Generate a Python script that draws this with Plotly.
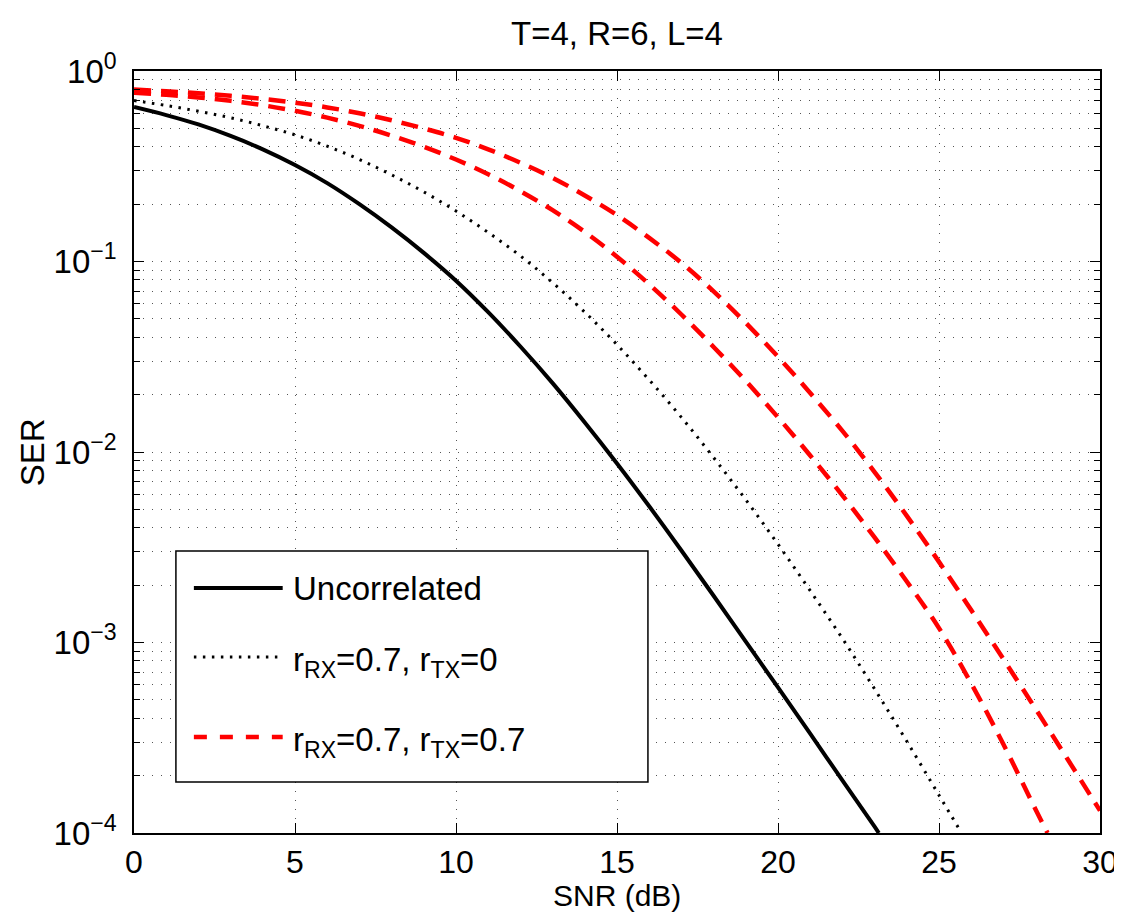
import plotly.graph_objects as go

# ---------------- data ----------------
snr_uncorr = [0, 1, 2, 3, 4, 5, 6, 7, 8, 9, 10, 11, 12, 13, 14, 15, 16, 17, 18, 19, 20, 21, 22, 23, 23.13]
ser_uncorr = [0.647, 0.587, 0.524, 0.456, 0.388, 0.321, 0.258, 0.200, 0.151, 0.111, 0.0793, 0.0542,
              0.0358, 0.0230, 0.0143, 0.00871, 0.00519, 0.00304, 0.00176, 0.00101, 5.81e-4, 3.32e-4,
              1.89e-4, 1.08e-4, 1.0e-4]

snr_rx = [0, 1, 2, 3, 4, 5, 6, 7, 8, 9, 10, 11, 12, 13, 14, 15, 16, 17, 18, 19, 20, 21, 22, 23, 24, 25, 25.7]
ser_rx = [0.700, 0.659, 0.615, 0.568, 0.516, 0.462, 0.403, 0.343, 0.285, 0.232, 0.184, 0.142, 0.107,
          0.0774, 0.0542, 0.0366, 0.0239, 0.0152, 0.00935, 0.00561, 0.00328, 0.00187, 0.00105,
          5.70e-4, 3.03e-4, 1.58e-4, 1.0e-4]

snr_both_a = [0, 1, 2, 3, 4, 5, 6, 7, 8, 9, 10, 11, 12, 13, 14, 15, 16, 17, 18, 19, 20, 21, 22, 23, 24,
              25, 26, 27, 28, 29, 30]
ser_both_a = [0.800, 0.783, 0.764, 0.741, 0.714, 0.682, 0.644, 0.600, 0.551, 0.499, 0.446, 0.388, 0.330,
              0.275, 0.222, 0.175, 0.133, 0.0984, 0.0697, 0.0476, 0.0316, 0.0204, 0.0129, 0.00785,
              0.00462, 0.00265, 0.00148, 8.18e-4, 4.48e-4, 2.43e-4, 1.31e-4]

snr_both_b = [0, 1, 2, 3, 4, 5, 6, 7, 8, 9, 10, 11, 12, 13, 14, 15, 16, 17, 18, 19, 20, 21, 22, 23, 24,
              25, 26, 27, 28, 28.37]
ser_both_b = [0.769, 0.750, 0.726, 0.697, 0.661, 0.618, 0.569, 0.515, 0.458, 0.400, 0.343, 0.287, 0.234,
              0.186, 0.143, 0.106, 0.0759, 0.0527, 0.0356, 0.0236, 0.0152, 0.00959, 0.00592, 0.00356,
              0.00209, 0.00119, 6.10e-4, 2.92e-4, 1.33e-4, 1.0e-4]

legend_labels = ["Uncorrelated", "r<sub>RX</sub>=0.7, r<sub>TX</sub>=0", "r<sub>RX</sub>=0.7, r<sub>TX</sub>=0.7"]
title_text = "T=4, R=6, L=4"
x_title = "SNR (dB)"
y_title = "SER"
x_ticks = [0, 5, 10, 15, 20, 25, 30]
y_ticks = [1e-4, 1e-3, 1e-2, 1e-1, 1]
y_ticktext = ["10<sup>\u22124</sup>", "10<sup>\u22123</sup>", "10<sup>\u22122</sup>",
              "10<sup>\u22121</sup>", "10<sup>0</sup>"]
y_minor = [m * 10.0 ** e for e in range(-4, 0) for m in range(2, 10)]

FONT = "Liberation Sans, Arial, Helvetica, sans-serif"
FS = 33
GRID = "#555555"

styles = [
    dict(color="black", width=4, dash="solid"),
    dict(color="black", width=3, dash="2.5px,6.5px"),
    dict(color="#ff0000", width=4.5, dash="17px,10px"),
]

fig = go.Figure()
fig.add_trace(go.Scatter(x=snr_uncorr, y=ser_uncorr, mode="lines", line=dict(shape="spline", **styles[0]),
                         name="Uncorrelated", showlegend=False))
fig.add_trace(go.Scatter(x=snr_rx, y=ser_rx, mode="lines", line=dict(shape="spline", **styles[1]),
                         name="rRX=0.7, rTX=0", showlegend=False))
fig.add_trace(go.Scatter(x=snr_both_a, y=ser_both_a, mode="lines", line=dict(shape="spline", **styles[2]),
                         name="rRX=0.7, rTX=0.7", showlegend=False))
fig.add_trace(go.Scatter(x=snr_both_b, y=ser_both_b, mode="lines", line=dict(shape="spline", **styles[2]),
                         name="rRX=0.7, rTX=0.7 (b)", showlegend=False))

# ---------------- geometry helpers (pixel -> paper) ----------------
L, R, T, B = 126, 1094, 63, 825
W, H = R - L, B - T


def px(xp):
    return (xp - L) / W


def py(yp):
    return (B - yp) / H


# ---------------- MATLAB-style legend box ----------------
fig.add_shape(type="rect", xref="paper", yref="paper", x0=px(168), x1=px(641), y0=py(774), y1=py(543),
              line=dict(color="black", width=1.5), fillcolor="white", layer="above")
rows = [580, 649, 729]
for i, (yy, lab) in enumerate(zip(rows, legend_labels)):
    st = styles[i]
    fig.add_shape(type="line", xref="paper", yref="paper", x0=px(186), x1=px(275), y0=py(yy), y1=py(yy),
                  line=dict(color=st["color"], width=st["width"],
                            dash="13px,13px" if i == 2 else st["dash"]), layer="above")
    fig.add_annotation(xref="paper", yref="paper", x=px(283), y=py(yy if i == 0 else yy + 5),
                       text=lab, showarrow=False, xanchor="left", yanchor="middle",
                       font=dict(family=FONT, size=FS, color="black"))

# axis titles
fig.add_annotation(xref="paper", yref="paper", x=px(610), y=py(887), text=x_title, showarrow=False,
                   xanchor="center", yanchor="middle", font=dict(family=FONT, size=30, color="black"))
fig.add_annotation(xref="paper", yref="paper", x=px(24), y=py(444), text=y_title, showarrow=False,
                   textangle=-90, xanchor="center", yanchor="middle",
                   font=dict(family=FONT, size=FS, color="black"))

fig.update_layout(
    width=1122, height=912,
    margin=dict(l=L, r=1122 - R, t=T, b=912 - B),
    paper_bgcolor="white", plot_bgcolor="white",
    font=dict(family=FONT, size=FS, color="black"),
    title=dict(text=title_text, x=px(610), xref="paper", xanchor="center",
               y=1 - 25 / 912, yref="container", yanchor="middle",
               font=dict(family=FONT, size=FS, color="black")),
    showlegend=False,
)
fig.update_xaxes(
    range=[0, 30], tickmode="array", tickvals=x_ticks,
    ticks="inside", ticklen=10, tickwidth=1, tickcolor="black",
    showline=True, linecolor="black", linewidth=1.5, mirror="ticks",
    showgrid=True, gridcolor=GRID, griddash="1px,8px", gridwidth=1,
    zeroline=False, tickfont=dict(family=FONT, size=32), ticklabelstandoff=0,
)
fig.update_yaxes(
    type="log", range=[-4, 0], tickmode="array", tickvals=y_ticks, ticktext=y_ticktext,
    ticks="inside", ticklen=10, tickwidth=1, tickcolor="black",
    showline=True, linecolor="black", linewidth=1.5, mirror="ticks",
    showgrid=True, gridcolor=GRID, griddash="1px,8px", gridwidth=1,
    zeroline=False, tickfont=dict(family=FONT, size=FS), ticklabelstandoff=9,
    minor=dict(tickmode="array", tickvals=y_minor, ticks="inside", ticklen=6, tickcolor="black",
               showgrid=True, gridcolor=GRID, griddash="1px,8px", gridwidth=1),
)

fig.write_html("out.html")
